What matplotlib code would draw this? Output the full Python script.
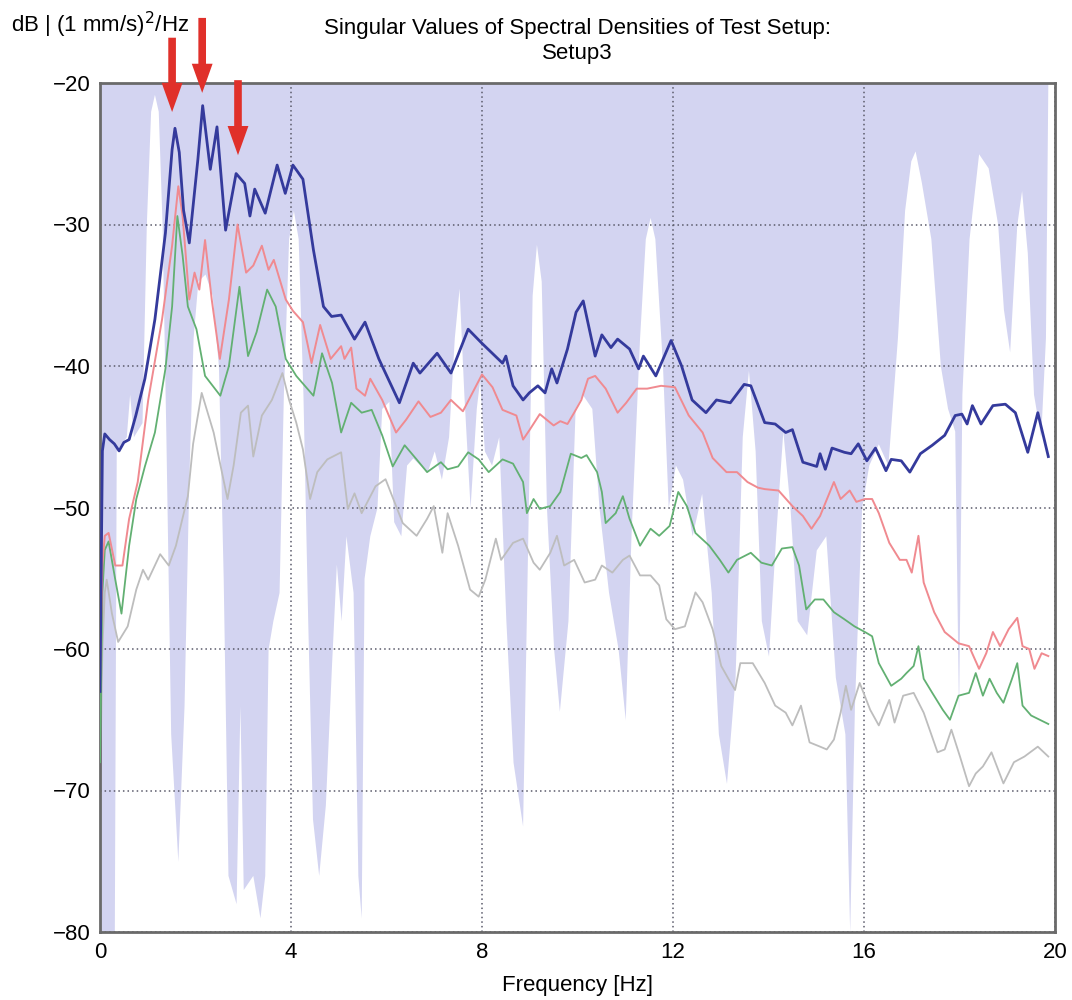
import matplotlib.pyplot as plt
import numpy as np

plt.rcParams['font.family'] = ['Liberation Sans', 'DejaVu Sans']

# lower edge of the shaded band (Hz, dB)
band_f = [0.0, 0.30, 0.34, 0.55, 0.62, 0.70, 0.88, 0.97, 1.06, 1.14, 1.22, 1.30, 1.38, 1.48,
          1.63, 1.76, 1.86, 1.95, 2.05, 2.2, 2.35, 2.48, 2.58, 2.68, 2.85, 2.93, 3.0, 3.2,
          3.35, 3.45, 3.52, 3.62, 3.75, 3.84, 3.95, 4.05, 4.15, 4.25, 4.35, 4.45, 4.58, 4.72,
          4.85, 4.95, 5.05, 5.15, 5.3, 5.4, 5.47, 5.53, 5.65, 5.8, 5.9, 6.05, 6.15, 6.3,
          6.42, 6.55, 6.7, 6.85, 7.0, 7.15, 7.3, 7.42, 7.52, 7.62, 7.75, 7.88, 7.95, 8.05,
          8.2, 8.35, 8.5, 8.65, 8.85, 8.97, 9.05, 9.14, 9.24, 9.35, 9.5, 9.62, 9.8, 9.95,
          10.1, 10.3, 10.45, 10.65, 10.85, 11.0, 11.12, 11.3, 11.42, 11.52, 11.62, 11.78,
          11.9, 12.05, 12.2, 12.4, 12.6, 12.8, 12.95, 13.12, 13.3, 13.45, 13.58, 13.72,
          13.85, 14.0, 14.15, 14.3, 14.45, 14.6, 14.8, 15.0, 15.2, 15.4, 15.6, 15.7, 15.8,
          15.95, 16.1, 16.3, 16.5, 16.7, 16.85, 16.98, 17.07, 17.2, 17.4, 17.6, 17.75, 17.9,
          17.98, 18.05, 18.2, 18.4, 18.6, 18.8, 18.92, 19.05, 19.2, 19.3, 19.42, 19.55,
          19.7, 19.8, 19.85, 20.0]
band_db = [-80, -80, -46, -45, -42, -45, -44, -30, -22, -20.8, -22, -30, -45, -66,
           -75, -64, -48, -38, -34, -33.5, -35, -40, -55, -76, -78, -64, -77, -76,
           -79, -76, -60, -58, -56, -42, -31, -29, -31, -42, -58, -72, -76, -71,
           -61, -54, -58, -52, -56, -76, -79, -55, -52, -50, -43, -42.5, -51, -52,
           -47, -46.5, -47, -47.5, -46, -48, -45, -38, -34.5, -42, -50, -43, -41, -46,
           -47, -45, -58, -68, -72.5, -50, -35, -31.4, -34, -50, -60, -64.4, -58, -43,
           -42, -43, -50, -56, -60, -65, -52, -38, -31, -29.5, -31, -40,
           -50, -47, -48, -52, -49, -56, -66, -69.5, -62, -45, -40.3, -46,
           -58, -60.5, -52, -44.6, -50, -58, -59, -53, -52, -62, -66, -80, -64,
           -50, -47, -45.5, -47, -38, -29, -25.5, -24.8, -27, -31, -40, -43, -44.6,
           -64.7, -42, -31, -25, -26, -30, -36, -39, -30, -27.6, -32, -42,
           -45, -38, -20, -20]

# first singular value
sv1_f = [0.0, 0.05, 0.1, 0.2, 0.3, 0.4, 0.5, 0.61, 0.75, 0.94, 1.15, 1.37, 1.51, 1.57, 1.66,
         1.75, 1.87, 2.05, 2.15, 2.31, 2.45, 2.63, 2.85, 3.03, 3.14, 3.24, 3.46, 3.71, 3.88,
         4.04, 4.25, 4.47, 4.68, 4.85, 5.05, 5.33, 5.55, 5.84, 6.27, 6.56, 6.70, 7.06, 7.35,
         7.71, 8.0, 8.43, 8.50, 8.65, 8.86, 8.99, 9.17, 9.32, 9.46, 9.57, 9.79, 9.97, 10.12,
         10.37, 10.51, 10.70, 10.84, 11.09, 11.28, 11.38, 11.64, 11.96, 12.18, 12.40, 12.69,
         12.91, 13.20, 13.49, 13.63, 13.92, 14.14, 14.36, 14.50, 14.72, 15.01, 15.08, 15.19,
         15.33, 15.59, 15.73, 15.88, 16.06, 16.24, 16.46, 16.57, 16.78, 16.96, 17.18, 17.43,
         17.69, 17.91, 18.05, 18.16, 18.27, 18.45, 18.70, 18.96, 19.17, 19.43, 19.64, 19.86]
sv1_db = [-63, -46, -44.8, -45.2, -45.5, -46.0, -45.4, -45.2, -43.5, -40.9, -36.7, -30.6,
          -24.7, -23.2, -24.9, -29.0, -31.3, -25.4, -21.6, -26.1, -23.1, -30.4, -26.4, -27.1,
          -29.4, -27.5, -29.2, -25.8, -27.8, -25.8, -26.8, -31.8, -35.8, -36.5, -36.4, -38.1,
          -36.9, -39.5, -42.6, -39.8, -40.5, -39.1, -40.5, -37.4, -38.4, -39.8, -39.3, -41.4,
          -42.4, -41.9, -41.4, -41.9, -40.2, -41.2, -38.8, -36.2, -35.4, -39.3, -37.8, -38.7,
          -38.1, -38.8, -40.2, -39.3, -40.7, -38.2, -40.0, -42.4, -43.3, -42.4, -42.6, -41.3,
          -41.4, -44.0, -44.1, -44.7, -44.5, -46.8, -47.1, -46.2, -47.3, -45.8, -46.1, -46.2,
          -45.5, -46.7, -45.8, -47.4, -46.6, -46.7, -47.5, -46.2, -45.6, -44.9, -43.5, -43.4,
          -44.1, -42.8, -44.1, -42.8, -42.7, -43.3, -46.1, -43.3, -46.4]

# second singular value
sv2_f = [0.0, 0.05, 0.1, 0.18, 0.32, 0.47, 0.61, 0.79, 1.01, 1.30, 1.51, 1.64, 1.73, 1.87,
         1.98, 2.08, 2.20, 2.34, 2.51, 2.70, 2.88, 3.06, 3.21, 3.39, 3.53, 3.64, 3.89, 4.04,
         4.25, 4.43, 4.61, 4.83, 5.05, 5.12, 5.26, 5.37, 5.55, 5.66, 5.91, 6.20, 6.41, 6.67,
         6.92, 7.14, 7.35, 7.60, 8.0, 8.22, 8.43, 8.72, 8.86, 9.0, 9.21, 9.50, 9.64, 9.79,
         9.93, 10.08, 10.22, 10.37, 10.59, 10.84, 11.02, 11.24, 11.46, 11.75, 12.04, 12.33,
         12.62, 12.83, 13.12, 13.34, 13.56, 13.78, 13.92, 14.21, 14.50, 14.72, 14.90, 15.08,
         15.37, 15.51, 15.70, 15.84, 16.02, 16.17, 16.31, 16.53, 16.75, 16.89, 17.0, 17.14,
         17.25, 17.47, 17.69, 17.98, 18.20, 18.41, 18.56, 18.70, 18.85, 19.03, 19.21, 19.32,
         19.46, 19.57, 19.72, 19.86]
sv2_db = [-62, -54, -52, -51.8, -54.1, -54.1, -50.8, -48.2, -42.4, -36.7, -31.5, -27.3, -29.4,
          -35.3, -33.4, -34.6, -31.1, -35.3, -39.5, -35.3, -30.0, -33.4, -32.9, -31.5, -33.2,
          -32.5, -35.3, -36.1, -36.9, -39.8, -37.1, -39.5, -38.6, -39.5, -38.7, -41.6, -42.1,
          -40.9, -42.4, -44.7, -43.8, -42.5, -43.6, -43.3, -42.4, -43.2, -40.6, -41.5, -43.1,
          -43.5, -45.2, -44.5, -43.4, -44.2, -43.9, -44.1, -43.3, -42.4, -40.9, -40.7, -41.6,
          -43.3, -42.6, -41.6, -41.6, -41.4, -41.5, -43.5, -44.7, -46.5, -47.5, -47.5, -48.2,
          -48.6, -48.7, -48.8, -49.9, -50.6, -51.5, -50.6, -48.2, -49.4, -48.8, -49.6, -49.4,
          -49.4, -50.4, -52.5, -53.7, -53.7, -54.6, -52.0, -55.3, -57.4, -58.8, -59.6, -59.8,
          -61.4, -60.3, -58.8, -59.8, -58.6, -57.8, -59.8, -60.0, -61.4, -60.3, -60.5]

# third singular value
sv3_f = [0.0, 0.05, 0.1, 0.18, 0.32, 0.45, 0.61, 0.76, 0.94, 1.15, 1.37, 1.51, 1.62, 1.73,
         1.84, 2.02, 2.20, 2.52, 2.70, 2.92, 3.10, 3.28, 3.50, 3.68, 3.89, 4.11, 4.47, 4.65,
         4.86, 5.05, 5.26, 5.48, 5.69, 5.91, 6.13, 6.38, 6.63, 6.85, 7.14, 7.28, 7.50, 7.71,
         7.93, 8.14, 8.43, 8.65, 8.86, 8.94, 9.08, 9.21, 9.43, 9.64, 9.86, 10.08, 10.19,
         10.41, 10.51, 10.59, 10.80, 10.95, 11.09, 11.31, 11.53, 11.71, 11.93, 12.11, 12.29,
         12.47, 12.76, 12.98, 13.16, 13.34, 13.63, 13.85, 14.07, 14.28, 14.50, 14.64, 14.79,
         14.97, 15.15, 15.37, 15.59, 15.80, 16.02, 16.17, 16.31, 16.57, 16.78, 16.89, 17.04,
         17.14, 17.25, 17.43, 17.65, 17.80, 17.98, 18.20, 18.34, 18.49, 18.63, 18.78, 18.92,
         19.10, 19.21, 19.32, 19.50, 19.68, 19.86]
sv3_db = [-68, -56, -53, -52.4, -55.1, -57.5, -52.7, -49.4, -47.1, -44.7, -40.2, -35.8, -29.4,
          -32.2, -35.8, -37.4, -40.7, -42.1, -40.0, -34.4, -39.3, -37.6, -34.6, -35.8, -39.5,
          -40.7, -42.1, -39.1, -41.2, -44.7, -42.6, -43.3, -43.1, -44.9, -47.1, -45.6, -46.6,
          -47.5, -46.8, -47.3, -47.1, -46.1, -46.6, -47.5, -46.6, -46.9, -48.2, -50.4, -49.4,
          -50.1, -49.9, -48.9, -46.2, -46.5, -46.3, -47.5, -48.9, -51.1, -50.4, -49.2, -50.8,
          -52.7, -51.5, -52.0, -51.3, -48.9, -49.9, -51.8, -52.7, -53.7, -54.6, -53.7, -53.2,
          -53.9, -54.1, -52.9, -52.8, -54.1, -57.2, -56.5, -56.5, -57.4, -57.9, -58.4, -58.8,
          -59.1, -61.0, -62.6, -62.1, -61.7, -61.2, -59.8, -62.1, -63.1, -64.3, -65.0, -63.3,
          -63.1, -61.7, -63.3, -62.1, -63.1, -63.8, -62.1, -61.0, -64.0, -64.7, -65.0, -65.3]

# fourth singular value
sv4_f = [0.0, 0.05, 0.10, 0.14, 0.25, 0.38, 0.58, 0.76, 0.90, 1.01, 1.26, 1.44, 1.59, 1.84,
         1.95, 2.13, 2.38, 2.67, 2.80, 2.95, 3.10, 3.21, 3.39, 3.60, 3.82, 3.96, 4.11, 4.25,
         4.40, 4.55, 4.76, 5.05, 5.19, 5.33, 5.48, 5.77, 5.98, 6.34, 6.63, 6.85, 6.99, 7.17,
         7.28, 7.50, 7.75, 7.93, 8.07, 8.29, 8.40, 8.65, 8.86, 9.08, 9.21, 9.43, 9.57, 9.72,
         9.93, 10.15, 10.37, 10.51, 10.73, 10.95, 11.09, 11.31, 11.53, 11.71, 11.86, 12.04,
         12.25, 12.47, 12.62, 12.83, 13.01, 13.16, 13.30, 13.41, 13.67, 13.92, 14.14, 14.36,
         14.50, 14.68, 14.86, 15.08, 15.22, 15.37, 15.51, 15.62, 15.73, 15.91, 16.13, 16.31,
         16.53, 16.64, 16.82, 17.04, 17.25, 17.54, 17.69, 17.83, 18.01, 18.20, 18.34, 18.49,
         18.67, 18.92, 19.14, 19.36, 19.64, 19.86]
sv4_db = [-70, -60, -56, -55.1, -57.5, -59.5, -58.4, -55.8, -54.4, -55.1, -53.3, -54.1, -52.7,
          -49.2, -45.5, -41.9, -44.7, -49.4, -47, -43.3, -42.8, -46.4, -43.5, -42.4, -40.5,
          -42.4, -44.0, -45.9, -49.4, -47.5, -46.6, -46.1, -50.1, -49.0, -50.4, -48.5, -48.0,
          -51.1, -52.0, -50.8, -49.9, -53.2, -50.4, -52.7, -55.8, -56.3, -55.1, -52.2, -53.7,
          -52.5, -52.2, -53.9, -54.4, -53.2, -52.0, -54.1, -53.7, -55.3, -55.1, -54.1, -54.6,
          -53.7, -53.4, -54.8, -54.8, -55.5, -57.9, -58.6, -58.4, -56.0, -56.7, -58.6, -61.2,
          -62.1, -62.9, -61.0, -61.0, -62.4, -64.0, -64.5, -65.4, -64.0, -66.6, -66.9, -67.1,
          -66.4, -64.5, -62.6, -64.3, -62.4, -64.3, -65.4, -63.6, -65.2, -63.3, -63.1, -64.5,
          -67.3, -67.1, -65.7, -67.6, -69.7, -68.8, -68.3, -67.3, -69.5, -68.0, -67.6, -66.9,
          -67.6]

# picked peaks (Hz) marked with arrows: (freq, arrow top dB, arrow tip dB)
peak_f = [1.51, 2.14, 2.89]
peak_top = [-16.8, -15.4, -19.8]
peak_tip = [-22.05, -20.7, -25.1]

fig = plt.figure(figsize=(10.72, 10.0), dpi=100)
ax = fig.add_axes([100 / 1072, 68 / 1000, 955 / 1072, 849 / 1000])

ax.fill_between(band_f, band_db, -20, color='#d3d4f1', linewidth=0, zorder=1)

ax.plot(sv4_f, sv4_db, color='#bdbdbd', lw=1.3, zorder=2)
ax.plot(sv3_f, sv3_db, color='#62b072', lw=1.3, zorder=3)
ax.plot(sv2_f, sv2_db, color='#f08a90', lw=1.4, zorder=4)
ax.plot(sv1_f, sv1_db, color='#343a9c', lw=2.0, zorder=5)

for f, top, tip in zip(peak_f, peak_top, peak_tip):
    ax.annotate('', xy=(f, tip), xytext=(f, top), annotation_clip=False,
                arrowprops=dict(facecolor='#e0302a', edgecolor='none',
                                width=5.5, headwidth=15, headlength=21, shrink=0))

ax.set_xlim(0, 20)
ax.set_ylim(-80, -20)
ax.set_xticks(np.arange(0, 21, 4))
ax.set_yticks(np.arange(-80, -19, 10))
ax.tick_params(length=0, labelsize=16)
ax.tick_params(axis='x', pad=7)
ax.tick_params(axis='y', pad=7)
ax.grid(True, color='#5a5a6a', linestyle=(0, (1, 2)), linewidth=1.1)
for s in ax.spines.values():
    s.set_color('#6a6a6a')
    s.set_linewidth(2)

ax.set_xlabel('Frequency [Hz]', fontsize=16, labelpad=9)
ax.set_title('Singular Values of Spectral Densities of Test Setup:\nSetup3',
             fontsize=16, pad=17, linespacing=1.25)
fig.text(11 / 1072, 0.975, 'dB | (1 mm/s)$^2$/Hz', fontsize=16, va='center', ha='left')

fig.savefig('out.png', dpi=100, facecolor='white')
